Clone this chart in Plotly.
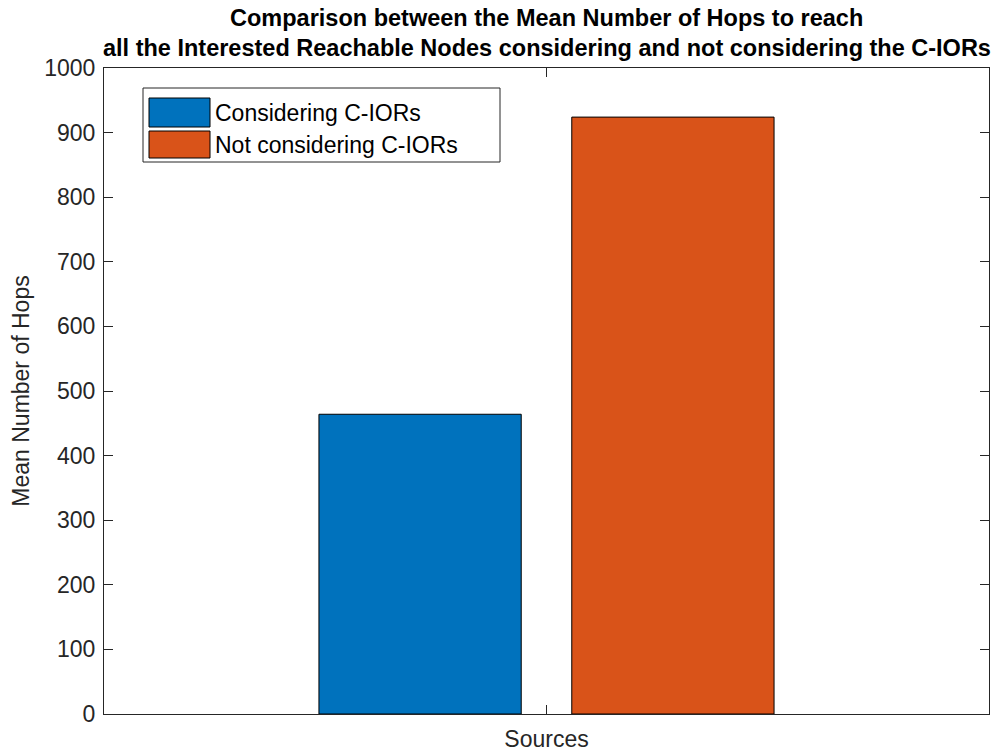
import plotly.graph_objects as go

# Mean number of hops (one source group, two conditions)
series_names = ["Considering C-IORs", "Not considering C-IORs"]
series_values = [464, 924]
series_colors = ["#0072BD", "#D95319"]
y_ticks = [0, 100, 200, 300, 400, 500, 600, 700, 800, 900, 1000]
title_lines = [
    "Comparison between the Mean Number of Hops to reach",
    "all the Interested Reachable Nodes considering and not considering the C-IORs",
]

AX = "#262626"
FONT = "Liberation Sans, Arial, Helvetica, sans-serif"

# plot area in pixels
L, R, T, B = 104, 989, 68, 714
W, H = R - L, B - T


def px_x(x):
    return (x - L) / W


def px_y(y):
    return (B - y) / H


fig = go.Figure()
for name, val, col in zip(series_names, series_values, series_colors):
    fig.add_trace(go.Bar(
        x=[1], y=[val], name=name,
        marker=dict(color=col, line=dict(color="#000000", width=1)),
        showlegend=False,
    ))

fig.update_layout(
    width=1005, height=754,
    margin=dict(l=L, r=1005 - R, t=T, b=754 - B),
    paper_bgcolor="white", plot_bgcolor="white",
    barmode="group", bargap=0.4286, bargroupgap=0.2,
    font=dict(family=FONT, color=AX, size=23),
    xaxis=dict(
        range=[0.5, 1.5], tickvals=[1], ticktext=[""],
        ticks="inside", ticklen=9, tickcolor=AX,
        showline=True, linecolor=AX, linewidth=1, mirror="allticks",
        showgrid=False, zeroline=False, fixedrange=True,
        title=dict(text="Sources", font=dict(size=23, color=AX), standoff=12),
    ),
    yaxis=dict(
        range=[0, 1000], tickvals=y_ticks,
        ticks="inside", ticklen=9, tickcolor=AX,
        showline=True, linecolor=AX, linewidth=1, mirror="allticks",
        showgrid=False, zeroline=False,
        tickfont=dict(size=23, color=AX), ticklabelstandoff=3,
        title=dict(text="Mean Number of Hops", font=dict(size=23, color=AX), standoff=8),
    ),
)

# two-line bold title centred over the axes
for text, yc in zip(title_lines, [18, 48]):
    fig.add_annotation(xref="paper", yref="paper", x=0.5, y=px_y(yc),
                       text="<b>" + text + "</b>", showarrow=False,
                       xanchor="center", yanchor="middle",
                       font=dict(size=23.5, color="#000000", family=FONT))

# Legend box with large colour swatches (upper-left of the axes)
fig.add_shape(type="rect", xref="paper", yref="paper",
              x0=px_x(143), x1=px_x(500), y0=px_y(162), y1=px_y(88),
              line=dict(color=AX, width=1), fillcolor="white", layer="above")
rows = [(98, 127), (131, 158)]
for (top, bot), name, col in zip(rows, series_names, series_colors):
    fig.add_shape(type="rect", xref="paper", yref="paper",
                  x0=px_x(149), x1=px_x(210), y0=px_y(bot), y1=px_y(top),
                  line=dict(color="#000000", width=1), fillcolor=col, layer="above")
    fig.add_annotation(xref="paper", yref="paper",
                       x=px_x(213), y=px_y((top + bot) / 2),
                       text=name, showarrow=False, xanchor="left", yanchor="middle",
                       font=dict(size=23, color="#000000", family=FONT))

fig.write_html("out.html")
